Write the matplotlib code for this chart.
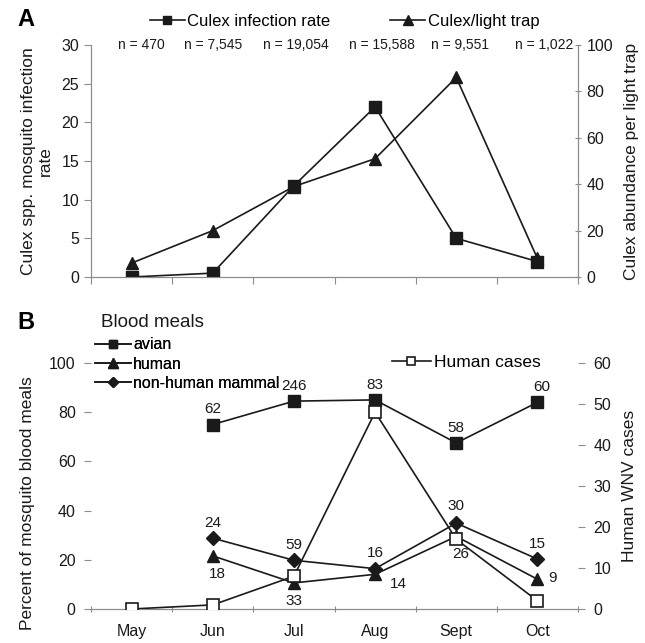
import matplotlib
matplotlib.use("Agg")
import matplotlib.pyplot as plt
import numpy as np

plt.rcParams['font.family'] = ['Liberation Sans', 'DejaVu Sans']

months = ["May", "Jun", "Jul", "Aug", "Sept", "Oct"]
n_labels = ["n = 470", "n = 7,545", "n = 19,054", "n = 15,588", "n = 9,551", "n = 1,022"]
infection_rate = [0, 0.5, 11.8, 22, 5, 2]
light_trap = [6, 20, 39, 51, 86, 8]

avian = [np.nan, 75, 84.5, 85, 67.5, 84]
human = [np.nan, 21.6, 10.6, 14.1, 29.5, 12.1]
mammal = [np.nan, 28.8, 19.8, 16.4, 34.9, 20.3]
human_cases = [0, 1, 8, 48, 17, 2]
avian_n = [None, 62, 246, 83, 58, 60]
human_n = [None, 18, 33, 14, 26, 9]
mammal_n = [None, 24, 59, 16, 30, 15]

LC = "#1a1a1a"
GC = "#8c8c8c"
FS = 11.5

W, H = 645, 643
fig = plt.figure(figsize=(W / 100, H / 100), dpi=100)

def rect(l, t, r, b):
    return [l / W, 1 - b / H, (r - l) / W, (b - t) / H]

x = np.arange(len(months))

# ---------------- Panel A ----------------
axA = fig.add_axes(rect(91, 45, 578, 277))
axA2 = axA.twinx()
lA1, = axA.plot(x, infection_rate, color=LC, lw=1.2, marker='s', ms=8, mfc=LC, mec=LC,
                label="Culex infection rate", zorder=3)
lA2, = axA2.plot(x, light_trap, color=LC, lw=1.2, marker='^', ms=9, mfc=LC, mec=LC,
                 label="Culex/light trap", zorder=3)
axA.set_xlim(-0.5, len(months) - 0.5)
axA.set_ylim(0, 30)
axA2.set_ylim(0, 100)
axA.set_yticks(np.arange(0, 31, 5))
axA2.set_yticks(np.arange(0, 101, 20))
axA.set_xticks(np.arange(-0.5, len(months), 1))
axA.set_xticklabels([])
for a in (axA, axA2):
    for s in a.spines.values():
        s.set_color(GC)
    a.spines['top'].set_visible(False)
axA.tick_params(axis='y', colors=GC, labelcolor=LC, labelsize=FS, length=5, direction='out')
axA2.tick_params(axis='y', colors=GC, labelcolor=LC, labelsize=FS, length=5, direction='inout')
axA.tick_params(axis='x', colors=GC, length=5, direction='out')
axA.set_ylabel("Culex spp. mosquito infection\nrate", fontsize=12.5, color=LC, labelpad=6)
axA2.set_ylabel("Culex abundance per light trap", fontsize=12.5, color=LC, labelpad=8)
n_shift = [0.12, 0, 0.03, 0.08, 0.05, 0.08]
for i, t in enumerate(n_labels):
    axA.text(x[i] + n_shift[i], 1.0, t, transform=axA.get_xaxis_transform(),
             ha='center', va='center', fontsize=10, color=LC)
axA.legend(handles=[lA1, lA2], ncol=2, loc='center left', bbox_to_anchor=(0.09, 1.10),
           frameon=False, fontsize=12, handlelength=2.1, handletextpad=0.15,
           columnspacing=3.6, markerscale=0.8)
fig.text(17 / W, 1 - 20 / H, "A", fontsize=17, fontweight='bold', va='center', ha='left')

# ---------------- Panel B ----------------
axB = fig.add_axes(rect(91, 363, 578, 609))
axB2 = axB.twinx()
lb1, = axB.plot(x, avian, color=LC, lw=1.2, marker='s', ms=8, mfc=LC, mec=LC, label="avian", zorder=3)
lb2, = axB.plot(x, human, color=LC, lw=1.2, marker='^', ms=9, mfc=LC, mec=LC, label="human", zorder=3)
lb3, = axB.plot(x, mammal, color=LC, lw=1.2, marker='D', ms=7, mfc=LC, mec=LC, label="non-human mammal", zorder=3)
lb4, = axB2.plot(x, human_cases, color=LC, lw=1.2, marker='s', ms=8, mfc='white', mec=LC,
                 mew=1.2, label="Human cases", zorder=3)
axB.set_xlim(-0.5, len(months) - 0.5)
axB.set_ylim(0, 100)
axB2.set_ylim(0, 60)
axB.set_yticks(np.arange(0, 101, 20))
axB2.set_yticks(np.arange(0, 61, 10))
axB.set_xticks(np.arange(-0.5, len(months), 1))
axB.set_xticklabels([])
axB.set_xticks(x, minor=True)
axB.set_xticklabels(months, minor=True)
axB.tick_params(axis='x', which='minor', length=0, labelsize=FS, labelcolor=LC, pad=11)
axB.tick_params(axis='x', which='major', colors=GC, length=4, direction='inout')
for a in (axB, axB2):
    for k in ('top', 'left', 'right'):
        a.spines[k].set_visible(False)
    a.spines['bottom'].set_color(GC)
axB.tick_params(axis='y', colors=GC, labelcolor=LC, labelsize=FS, length=5, direction='out', pad=6)
axB2.tick_params(axis='y', colors=GC, labelcolor=LC, labelsize=FS, length=5, direction='out', pad=6)
axB.set_ylabel("Percent of mosquito blood meals", fontsize=12.5, color=LC)
axB.yaxis.set_label_coords(-0.115, 0.43)
axB2.set_ylabel("Human WNV cases", fontsize=12.5, color=LC, labelpad=8)

def annotate(vals, labels, offsets):
    for i, (v, lab) in enumerate(zip(vals, labels)):
        if lab is None:
            continue
        dx, dy = offsets[i]
        axB.annotate(str(lab), (x[i], v), xytext=(dx, dy), textcoords='offset points',
                     ha='center', va='center', fontsize=11, color=LC)

annotate(avian, avian_n, [None, (0, 11), (0, 11), (0, 11), (0, 11), (3, 11)])
annotate(mammal, mammal_n, [None, (0, 11), (0, 11), (0, 11), (0, 12), (0, 11)])
annotate(human, human_n, [None, (3, -13), (0, -13), (17, -7), (3, -13), (11, 1)])

legB = axB.legend(handles=[lb1, lb2, lb3], loc='upper left', bbox_to_anchor=(-0.005, 1.13),
                  frameon=False, fontsize=11.5, handlelength=2.25, handletextpad=0.15,
                  labelspacing=0.27, markerscale=0.8, borderaxespad=0)
axB.add_artist(legB)
fig.text(101 / W, 1 - 322 / H, "Blood meals", fontsize=13.5, color=LC, va='center', ha='left')
axB2.legend(handles=[lb4], loc='center left', bbox_to_anchor=(0.585, 1.004), frameon=False,
            fontsize=12.5, handlelength=2.3, handletextpad=0.15, markerscale=0.8)
fig.text(17 / W, 1 - 322 / H, "B", fontsize=17, fontweight='bold', va='center', ha='left')

fig.savefig("out.png", dpi=100)
